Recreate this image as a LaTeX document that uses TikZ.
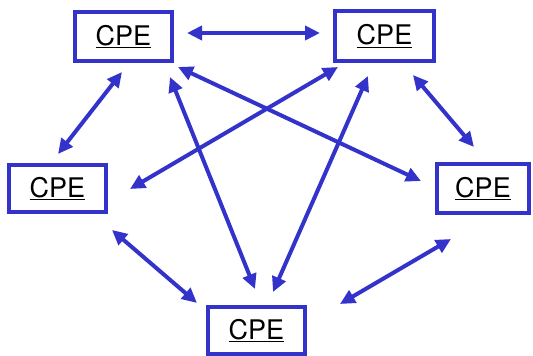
\documentclass[tikz,border=0pt]{standalone}
\usepackage{fontspec}
\setmainfont{TeX Gyre Heros}
\usetikzlibrary{arrows.meta,calc}
\definecolor{cpeblue}{RGB}{51,51,204}
\begin{document}
\begin{tikzpicture}[x=1pt,y=-1pt,
  cpebox/.style={draw=cpeblue,line width=4pt,rectangle,inner sep=0pt,outer sep=2pt,
    font=\fontsize{27}{30}\selectfont,text=black},
  arr/.style={draw=cpeblue,line width=4pt,
    {Triangle[length=15pt,width=14pt]}-{Triangle[length=15pt,width=14pt]}}]
\useasboundingbox (0,0) rectangle (533,356);
\node[cpebox,minimum width=97pt,minimum height=49pt] (tl) at (123.5,36.5) {\underline{CPE}};
\node[cpebox,minimum width=99pt,minimum height=50pt] (tr) at (384.5,36) {\underline{CPE}};
\node[cpebox,minimum width=97pt,minimum height=47pt] (l) at (57.5,188.5) {\underline{CPE}};
\node[cpebox,minimum width=92pt,minimum height=49pt] (r) at (483,188.5) {\underline{CPE}};
\node[cpebox,minimum width=97pt,minimum height=47pt] (b) at (256.5,330.5) {\underline{CPE}};
% top horizontal
\draw[arr,shorten <=13pt,shorten >=13pt] ($(tl.east)+(0,-3.5)$) -- ($(tr.west)+(0,-3)$);
% tl - l
\draw[arr,shorten <=11.4pt,shorten >=11.4pt] ($(tl.south)+(5.5,0)$) -- ($(l.north)+(-6.5,0)$);
% tl - r
\draw[arr,shorten <=9.4pt,shorten >=15.5pt] ($(tl.south)+(46,0)$) -- ($(r.west)+(0,-0.9)$);
% tl - b
\draw[arr,shorten <=15.1pt,shorten >=17.2pt] ($(tl.south)+(40.9,0)$) -- ($(b.north)+(4.9,0)$);
% tr - l
\draw[arr,shorten <=7.9pt,shorten >=25.5pt] ($(tr.south)+(-39.7,0)$) -- ($(l.east)+(0,13.4)$);
% tr - b
\draw[arr,shorten <=14.2pt,shorten >=14.2pt] ($(tr.south)+(-10.8,0)$) -- ($(b.north)+(10.8,0)$);
% tr - r
\draw[arr,shorten <=15.7pt,shorten >=19.7pt] ($(tr.south)+(18.3,0)$) -- ($(r.north)+(3.7,0)$);
% l - b
\draw[arr,shorten <=24.5pt,shorten >=11.9pt] ($(l.south)+(35.9,0)$) -- ($(b.west)+(0,-19.8)$);
% b - r
\draw[arr,shorten <=38.2pt,shorten >=47.5pt] ($(b.east)+(0,-7.2)$) -- ($(r.south)+(9,0)$);
\end{tikzpicture}
\end{document}
